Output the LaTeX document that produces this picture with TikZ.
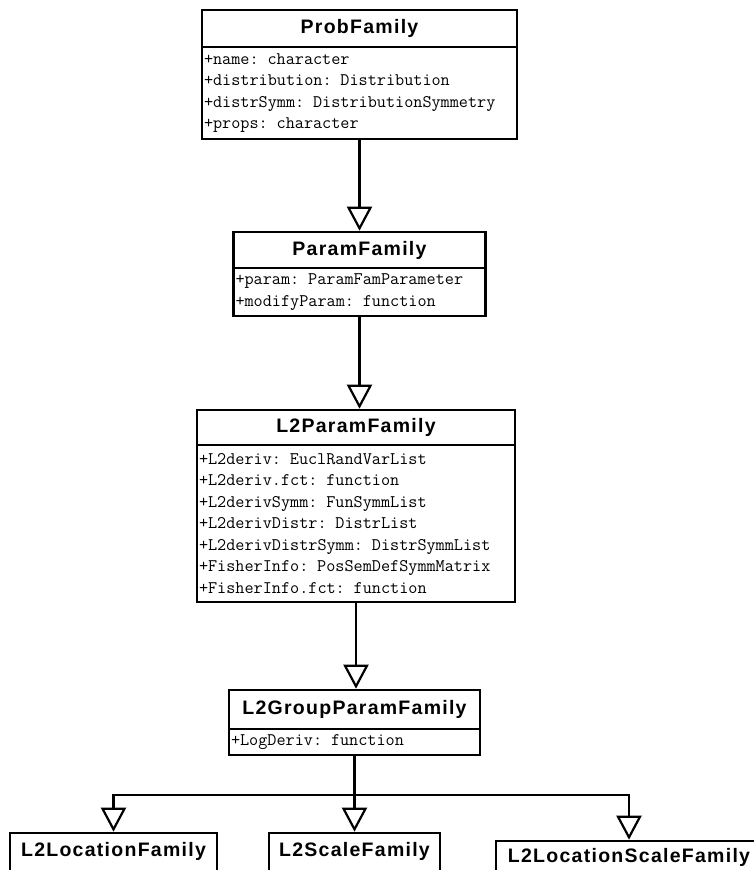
\documentclass[tikz,border=0pt]{standalone}
\usepackage{fontspec}
\newfontfamily\classfont{Liberation Sans}[LetterSpace=6.5]
\usetikzlibrary{arrows.meta, positioning}

\tikzset{
  classname/.style={draw, line width=2.6pt, fill=white, minimum height=37pt, inner sep=0pt, outer sep=0pt,
                    anchor=north, font=\classfont\bfseries\fontsize{19.5}{22}\selectfont},
  subclass/.style={classname, minimum height=0pt, inner ysep=9pt, text height=14pt, text depth=30pt},
  classattr/.style={draw, line width=2.6pt, fill=white, align=left, inner xsep=2pt, inner ysep=0pt,
                    outer sep=0pt, font=\ttfamily\fontsize{17.7}{21.5}\selectfont},
  inherit/.style={line width=2.6pt, -{Triangle[open, length=24pt, width=25pt, line width=2.2pt]}, shorten >=1.3pt},
}

\begin{document}
\begin{tikzpicture}[x=1pt, y=-1pt]
  \clip (0,0) rectangle (754,870);
  \fill[white] (0,0) rectangle (754,870);
  % top class
  \node[classname, minimum width=315pt] (probName) at (359.5,10) {ProbFamily};
  \node[classattr, text width=311pt, minimum height=92pt, below=0pt of probName] (probAttr)
    {+name: character\\+distribution: Distribution\\+distrSymm: DistributionSymmetry\\+props: character};
  % parametric family
  \node[classname, minimum width=252pt, minimum height=36pt] (paramName) at (359.5,232) {ParamFamily};
  \node[classattr, text width=248pt, minimum height=48pt, below=0pt of paramName] (paramAttr)
    {+param: ParamFamParameter\\+modifyParam: function};
  % L2 differentiable family
  \node[classname, minimum width=318pt, minimum height=35pt] (l2Name) at (356,410) {L2ParamFamily};
  \node[classattr, text width=314pt, minimum height=157pt, below=0pt of l2Name] (l2Attr)
    {+L2deriv: EuclRandVarList\\+L2deriv.fct: function\\+L2derivSymm: FunSymmList\\+L2derivDistr: DistrList\\
     +L2derivDistrSymm: DistrSymmList\\+FisherInfo: PosSemDefSymmMatrix\\+FisherInfo.fct: function};
  % group model
  \node[classname, minimum width=251pt, minimum height=39pt] (groupName) at (354.5,690) {L2GroupParamFamily};
  \node[classattr, text width=247pt, minimum height=26pt, below=0pt of groupName] (groupAttr)
    {+LogDeriv: function};
  % subclasses (cut at the bottom)
  \node[subclass, minimum width=207pt] (locName) at (113.5,833) {L2LocationFamily};
  \node[subclass, minimum width=171pt] (scaleName) at (354.5,833) {L2ScaleFamily};
  \node[subclass, minimum width=266pt, inner ysep=7pt] (locScaleName) at (629,841) {L2LocationScaleFamily};
  % generalisations
  \draw[inherit] (probAttr.south) -- (paramName.north);
  \draw[inherit] (paramAttr.south) -- (paramAttr.south |- l2Name.north);
  \draw[inherit] (l2Attr.south) -- (l2Attr.south |- groupName.north);
  \coordinate (fork) at (354.5,795);
  \draw[line width=2.6pt] (groupAttr.south) -- (fork);
  \draw[inherit] (fork) -| (locName.north);
  \draw[inherit] (fork) -- (scaleName.north);
  \draw[inherit] (fork) -| (locScaleName.north);
\end{tikzpicture}
\end{document}
